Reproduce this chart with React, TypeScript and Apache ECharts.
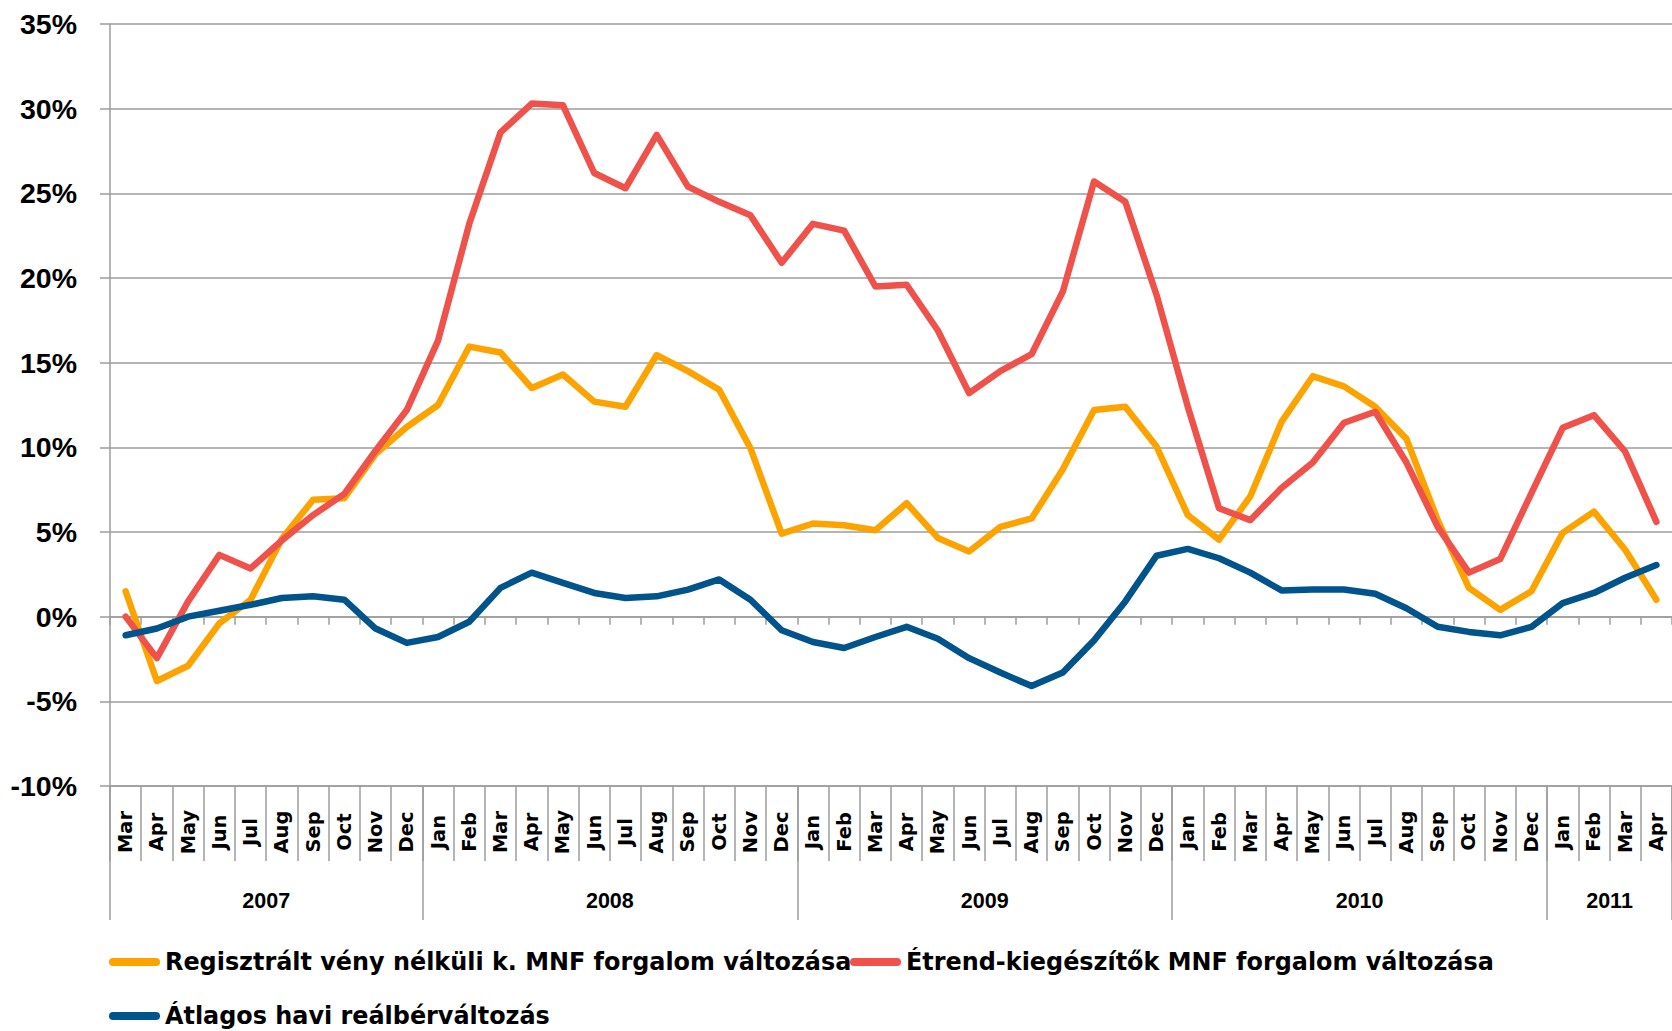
import React, { useEffect, useRef } from 'react';
import * as echarts from 'echarts';

// ---- Data ----
const months = [
  'Mar', 'Apr', 'May', 'Jun', 'Jul', 'Aug', 'Sep', 'Oct', 'Nov', 'Dec',
  'Jan', 'Feb', 'Mar', 'Apr', 'May', 'Jun', 'Jul', 'Aug', 'Sep', 'Oct', 'Nov', 'Dec',
  'Jan', 'Feb', 'Mar', 'Apr', 'May', 'Jun', 'Jul', 'Aug', 'Sep', 'Oct', 'Nov', 'Dec',
  'Jan', 'Feb', 'Mar', 'Apr', 'May', 'Jun', 'Jul', 'Aug', 'Sep', 'Oct', 'Nov', 'Dec',
  'Jan', 'Feb', 'Mar', 'Apr',
];
const years = ['2007', '2008', '2009', '2010', '2011'];
const monthsPerYear = [10, 12, 12, 12, 4];

const seriesNames = [
  'Regisztrált vény nélküli k. MNF forgalom változása',
  'Étrend-kiegészítők MNF forgalom változása',
  'Átlagos havi reálbérváltozás',
];

const registeredOtc = [
  1.5, -3.8, -2.9, -0.4, 1.0, 4.6, 6.9, 7.0, 9.6, 11.2,
  12.5, 15.95, 15.6, 13.5, 14.3, 12.7, 12.4, 15.45, 14.5, 13.4,
  9.95, 4.9, 5.5, 5.4, 5.1, 6.7, 4.65, 3.85, 5.3, 5.8,
  8.7, 12.2, 12.4, 10.05, 6.0, 4.55, 7.1, 11.5, 14.2, 13.6,
  12.4, 10.5, 5.7, 1.7, 0.4, 1.5, 4.95, 6.2, 3.95, 1.0,
];
const supplements = [
  0.0, -2.45, 0.9, 3.65, 2.85, 4.5, 6.0, 7.25, 9.8, 12.2,
  16.3, 23.2, 28.6, 30.3, 30.2, 26.2, 25.3, 28.45, 25.4, 24.5,
  23.7, 20.9, 23.2, 22.8, 19.5, 19.6, 16.9, 13.2, 14.5, 15.5,
  19.2, 25.7, 24.5, 19.0, 12.4, 6.4, 5.7, 7.6, 9.1, 11.45,
  12.1, 9.1, 5.3, 2.6, 3.4, 7.3, 11.15, 11.9, 9.75, 5.6,
];
const realWage = [
  -1.1, -0.7, 0.0, 0.35, 0.7, 1.1, 1.2, 1.0, -0.7, -1.55,
  -1.2, -0.3, 1.7, 2.6, 2.0, 1.4, 1.1, 1.2, 1.6, 2.2,
  1.0, -0.8, -1.5, -1.85, -1.2, -0.6, -1.3, -2.45, -3.3, -4.1,
  -3.3, -1.4, 0.9, 3.6, 4.0, 3.45, 2.6, 1.55, 1.6, 1.6,
  1.35, 0.5, -0.6, -0.9, -1.1, -0.6, 0.8, 1.4, 2.3, 3.05,
];

const yMin = -10;
const yMax = 35;
const yStep = 5;

const colors = ['#FCA300', '#EE524A', '#01548B'];
const gridColor = '#9c9c9c';

export default function App() {
  const ref = useRef<HTMLDivElement>(null);

  useEffect(() => {
    if (!ref.current) return;
    const chart = echarts.init(ref.current, undefined, { renderer: 'svg' });

    // year boundaries and centers (in month-boundary units)
    const boundaries: number[] = [0];
    monthsPerYear.forEach((n) => boundaries.push(boundaries[boundaries.length - 1] + n));
    const centers: number[] = [];
    for (let i = 0; i < years.length; i++) centers.push((boundaries[i] + boundaries[i + 1]) / 2);
    const boundaryAxisData = Array.from({ length: months.length + 1 }, (_, i) => 'b' + i);

    const lineStyle = { color: gridColor, width: 1.5 };
    const capsule = 'path://M4,0H47A4,4,0,0,1,47,8H4A4,4,0,0,1,4,0Z';
    const legendText = {
      fontFamily: 'DejaVu Sans',
      fontWeight: 'bold' as const,
      fontSize: 23.9,
      color: '#000',
    };
    const legendBase = {
      padding: 0,
      itemWidth: 51,
      itemHeight: 8,
      icon: capsule,
      itemGap: 0,
      selectedMode: false,
      textStyle: legendText,
    };

    const option: any = {
      animation: false,
      backgroundColor: '#ffffff',
      grid: { left: 110, top: 24, width: 1568, height: 762 },
      xAxis: [
        {
          type: 'category',
          data: months,
          position: 'bottom',
          boundaryGap: true,
          axisLine: { show: true, onZero: true, lineStyle },
          axisTick: { show: true, interval: 0, length: 8, lineStyle },
          axisLabel: { show: false },
          splitLine: { show: false },
        },
        {
          type: 'category',
          data: months,
          position: 'bottom',
          boundaryGap: true,
          axisLine: { show: true, onZero: false, lineStyle },
          axisTick: { show: true, interval: 0, length: 75, lineStyle },
          axisLabel: {
            interval: 0,
            rotate: 90,
            align: 'center',
            verticalAlign: 'middle',
            margin: 46,
            fontFamily: 'DejaVu Sans',
            fontWeight: 'bold',
            fontSize: 19.5,
            color: '#000',
          },
          splitLine: { show: false },
        },
        {
          type: 'category',
          data: boundaryAxisData,
          position: 'bottom',
          boundaryGap: false,
          axisLine: { show: false, onZero: false },
          axisTick: {
            show: true,
            interval: (i: number) => boundaries.indexOf(i) >= 0,
            length: 134,
            lineStyle,
          },
          axisLabel: {
            interval: (i: number) => centers.indexOf(i) >= 0,
            formatter: (_v: string, i: number) => {
              const k = centers.indexOf(i);
              return k >= 0 ? years[k] : '';
            },
            verticalAlign: 'middle',
            margin: 115,
            fontFamily: 'Liberation Sans',
            fontWeight: 'bold',
            fontSize: 21.5,
            color: '#000',
          },
          splitLine: { show: false },
        },
      ],
      yAxis: {
        type: 'value',
        min: yMin,
        max: yMax,
        interval: yStep,
        axisLine: { show: true, onZero: false, lineStyle },
        axisTick: { show: true, length: 10, lineStyle },
        axisLabel: {
          formatter: '{value}%',
          margin: 33,
          fontFamily: 'Liberation Sans',
          fontWeight: 'bold',
          fontSize: 28.5,
          color: '#000',
        },
        splitLine: { show: true, lineStyle },
      },
      legend: [
        { ...legendBase, data: [seriesNames[0]], left: 109, top: 950 },
        { ...legendBase, data: [seriesNames[1]], left: 850, top: 950 },
        { ...legendBase, data: [seriesNames[2]], left: 109, top: 1004 },
      ],
      series: [registeredOtc, supplements, realWage].map((d, i) => ({
        name: seriesNames[i],
        type: 'line',
        data: d,
        xAxisIndex: 0,
        yAxisIndex: 0,
        symbol: 'none',
        z: 3 + i,
        itemStyle: { color: colors[i] },
        lineStyle: { color: colors[i], width: 6.5, cap: 'round', join: 'round' },
      })),
    };

    chart.setOption(option);
    return () => chart.dispose();
  }, []);

  return (
    <div
      ref={ref}
      style={{ position: 'absolute', left: 0, top: 0, width: 1672, height: 1031 }}
    />
  );
}
